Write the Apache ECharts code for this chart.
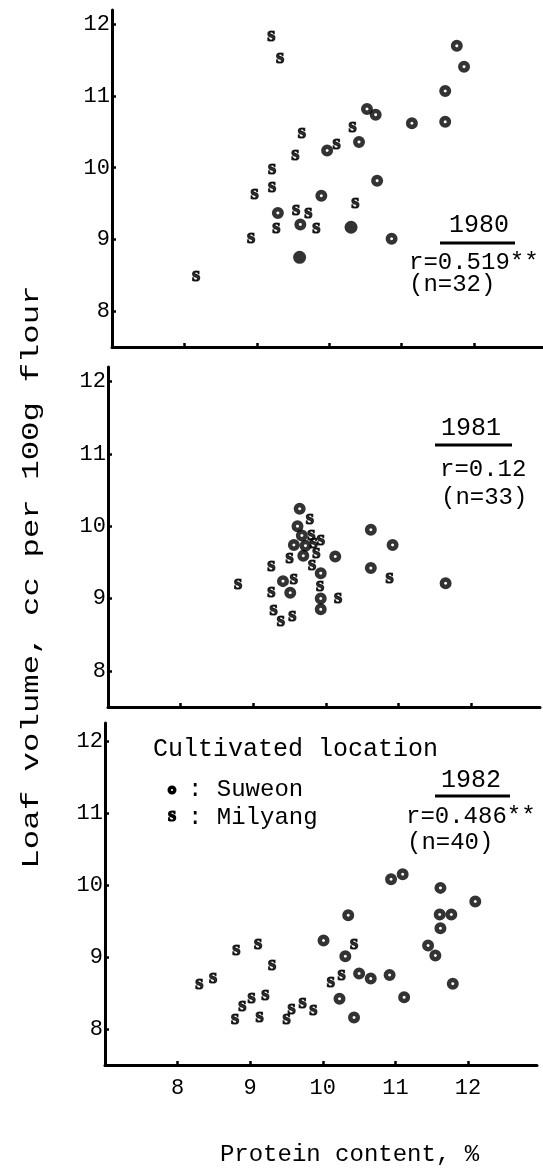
<!DOCTYPE html>
<html><head><meta charset="utf-8">
<script src="https://cdn.jsdelivr.net/npm/echarts@6/dist/echarts.min.js"></script>
<style>html,body{margin:0;padding:0;background:#fff}#c{width:543px;height:1172px}</style>
</head><body><div id="c"></div>
<script>
// ---- tick labels ----
const xTicks = [8, 9, 10, 11, 12];
const yTicks = [8, 9, 10, 11, 12];

// ---- 1980 (protein %, loaf volume) ----
const suweon1980 = [[9.29,9.37],[9.60,9.21],[9.89,9.61],[9.97,10.24],[10.41,10.36],[10.52,10.82],[10.64,10.74],[10.66,9.82],[10.86,9.01],[11.14,10.62],[11.60,11.07],[11.60,10.64],[11.76,11.70],[11.86,11.41]];
const suweon1980Solid = [[9.59,8.75],[10.30,9.17]];
const milyang1980 = [[9.20,11.84],[9.32,11.53],[8.16,8.49],[8.92,9.02],[8.97,9.64],[9.21,9.99],[9.21,9.74],[9.27,9.16],[9.53,10.19],[9.62,10.49],[9.54,9.41],[9.71,9.38],[9.82,9.16],[10.10,10.34],[10.32,10.57],[10.36,9.52]];

// ---- 1981 ----
const suweon1981 = [[9.64,10.24],[9.61,10.00],[9.67,9.87],[9.56,9.74],[9.72,9.73],[9.69,9.59],[10.13,9.58],[9.93,9.35],[9.41,9.24],[9.51,9.08],[9.93,9.00],[9.93,8.85],[10.62,9.95],[10.92,9.74],[10.62,9.42],[11.65,9.21]];
const milyang1981 = [[9.78,10.10],[9.80,9.89],[9.93,9.82],[9.83,9.77],[9.87,9.64],[9.50,9.57],[9.25,9.45],[9.81,9.47],[8.79,9.20],[9.56,9.27],[9.92,9.18],[9.25,9.10],[10.17,9.01],[9.28,8.85],[9.38,8.69],[9.54,8.76],[10.88,9.29]];

// ---- 1982 ----
const suweon1982 = [[10.01,9.23],[10.35,9.58],[10.31,9.01],[10.50,8.77],[10.66,8.70],[10.92,8.75],[10.23,8.42],[10.43,8.16],[11.12,8.44],[10.94,10.08],[11.10,10.15],[11.62,9.96],[12.10,9.77],[11.61,9.59],[11.77,9.59],[11.62,9.40],[11.45,9.16],[11.55,9.02],[11.79,8.63]];
const milyang1982 = [[8.30,8.63],[8.49,8.71],[8.81,9.10],[9.11,9.19],[9.30,8.90],[8.89,8.32],[9.02,8.43],[9.21,8.48],[8.79,8.14],[9.13,8.17],[9.50,8.14],[9.57,8.28],[9.72,8.37],[9.87,8.27],[10.11,8.66],[10.26,8.75],[10.43,9.18]];

// ---- texts ----
const yTitle = 'Loaf volume, cc per 100g flour';
const xTitle = 'Protein content, %';
const panelYears = ['1980', '1981', '1982'];
const panelR = ['r=0.519**', 'r=0.12', 'r=0.486**'];
const panelN = ['(n=32)', '(n=33)', '(n=40)'];
const legendTitle = 'Cultivated location';
const legendNames = ['Suweon', 'Milyang'];

const MONO = '"Liberation Mono", "DejaVu Sans Mono", monospace';
const SERIF = '"Liberation Serif", "DejaVu Serif", serif';

const grids = [
  { left: 112, top: 10, width: 432, height: 337 },
  { left: 108, top: 367, width: 432, height: 340 },
  { left: 105, top: 723, width: 432, height: 342 }
];
const yMax = [12.2, 12.2, 12.25];

function xAxisFor(i, showLabels) {
  return {
    type: 'value', gridIndex: i, min: 7, max: 12.95,
    axisLine: { show: true, onZero: false, lineStyle: { color: '#000', width: 3 } },
    axisTick: { show: true, inside: true, length: 4, customValues: xTicks, lineStyle: { color: '#000', width: 2.5 } },
    axisLabel: { show: showLabels, customValues: xTicks, margin: 12, fontSize: 22, fontFamily: MONO, color: '#000' },
    splitLine: { show: false },
    name: showLabels ? xTitle : '',
    nameLocation: 'middle', nameGap: 78,
    nameTextStyle: { fontSize: 24, fontFamily: MONO, color: '#000', padding: [0, 0, 0, 57] }
  };
}
function yAxisFor(i) {
  return {
    type: 'value', gridIndex: i, min: 7.5, max: yMax[i],
    axisLine: { show: true, onZero: false, lineStyle: { color: '#000', width: 3 } },
    axisTick: { show: true, inside: true, length: 4, customValues: yTicks, lineStyle: { color: '#000', width: 2.5 } },
    axisLabel: { show: true, customValues: yTicks, margin: 2, fontSize: 22, fontFamily: MONO, color: '#000' },
    splitLine: { show: false }
  };
}
function ringSeries(i, data, name) {
  return {
    type: 'scatter', name, xAxisIndex: i, yAxisIndex: i, data,
    symbol: 'circle', symbolSize: 7.5,
    itemStyle: { color: '#fff', borderColor: '#000', borderWidth: 4.5 },
    emphasis: { disabled: true }, silent: true
  };
}
function solidSeries(i, data, name) {
  return {
    type: 'scatter', name, xAxisIndex: i, yAxisIndex: i, data,
    symbol: 'circle', symbolSize: 13,
    itemStyle: { color: '#000' },
    emphasis: { disabled: true }, silent: true
  };
}
function sSeries(i, data, name) {
  return {
    type: 'scatter', name, xAxisIndex: i, yAxisIndex: i, data,
    symbol: 'circle', symbolSize: 1,
    itemStyle: { color: 'rgba(0,0,0,0)' },
    label: { show: true, position: 'inside', formatter: 's', fontFamily: SERIF, fontWeight: 'bold', fontSize: 21, color: '#000',
             textBorderColor: '#000', textBorderWidth: 1.2, offset: [0, -2] },
    labelLayout: { hideOverlap: false },
    emphasis: { disabled: true }, silent: true
  };
}

function txt(x, y, text, align, size, extra) {
  return Object.assign({ type: 'text', x, y, silent: true,
    style: { text, align, verticalAlign: 'middle', fontSize: size || 24, fontFamily: MONO, fill: '#000' } }, extra || {});
}
function hline(x1, x2, y) {
  return { type: 'line', silent: true, shape: { x1, y1: y, x2, y2: y }, style: { stroke: '#000', lineWidth: 3 } };
}

const graphics = [
  txt(32, 577, yTitle, 'center', 24, { rotation: Math.PI / 2, scaleX: 1.35 }),
  // 1980
  txt(479, 225, panelYears[0], 'center', 25), hline(440, 515, 243),
  txt(409, 263, panelR[0], 'left'), txt(409, 285, panelN[0], 'left'),
  // 1981
  txt(471, 428, panelYears[1], 'center', 25), hline(435, 512, 445),
  txt(440, 470, panelR[1], 'left'), txt(441, 498, panelN[1], 'left'),
  // 1982
  txt(153, 749, legendTitle, 'left', 25),
  { type: 'circle', silent: true, shape: { cx: 172, cy: 790, r: 2.8 }, style: { fill: '#fff', stroke: '#000', lineWidth: 3.4 } },
  txt(188, 790, ': ' + legendNames[0], 'left'),
  { type: 'text', x: 172, y: 816, silent: true, style: { text: 's', align: 'center', verticalAlign: 'middle', fontSize: 21, fontWeight: 'bold', fontFamily: SERIF, fill: '#000', stroke: '#000', lineWidth: 1.2 } },
  txt(188, 818, ': ' + legendNames[1], 'left'),
  txt(471, 780, panelYears[2], 'center', 25), hline(435, 510, 796),
  txt(406, 817, panelR[2], 'left'), txt(407, 843, panelN[2], 'left')
];

const chart = echarts.init(document.getElementById('c'), null, { renderer: 'canvas' });
chart.setOption({
  animation: false,
  backgroundColor: '#fff',
  grid: grids,
  xAxis: [xAxisFor(0, false), xAxisFor(1, false), xAxisFor(2, true)],
  yAxis: [yAxisFor(0), yAxisFor(1), yAxisFor(2)],
  series: [
    ringSeries(0, suweon1980, legendNames[0]), solidSeries(0, suweon1980Solid, legendNames[0] + ' (solid)'), sSeries(0, milyang1980, legendNames[1]),
    ringSeries(1, suweon1981, legendNames[0]), sSeries(1, milyang1981, legendNames[1]),
    ringSeries(2, suweon1982, legendNames[0]), sSeries(2, milyang1982, legendNames[1])
  ],
  graphic: graphics
});
</script>
</body></html>
